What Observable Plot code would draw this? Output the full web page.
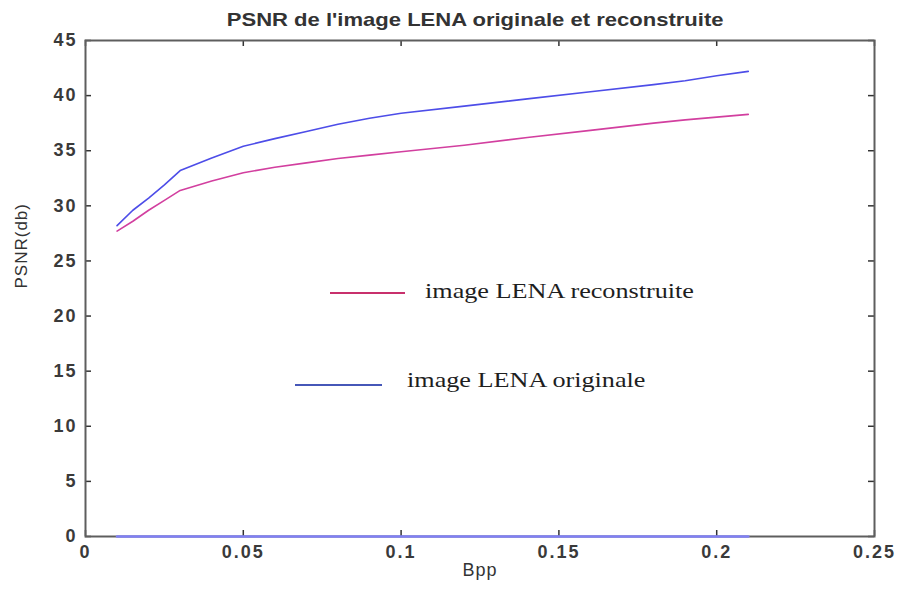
<!DOCTYPE html>
<html>
<head>
<meta charset="utf-8">
<script src="https://cdn.jsdelivr.net/npm/d3@7"></script>
<script src="https://cdn.jsdelivr.net/npm/@observablehq/plot@0.6"></script>
<style>
  body { margin: 0; background: #fff; }
  #wrap { position: relative; width: 899px; height: 589px; background: #fff; font-family: "Liberation Sans", Arial, sans-serif; }
  #title { height: 30px; line-height: 30px; padding-top: 5px; padding-left: 52px; box-sizing: border-box; text-align: center; white-space: nowrap; }
  #title span { display: inline-block; font-size: 19px; font-weight: bold; color: #333; transform: scaleX(1.16); }
  #chart svg text { letter-spacing: 2px; }
  .leg-line { position: absolute; height: 2px; }
  .leg-text { position: absolute; font-family: "Liberation Serif", "Times New Roman", serif; font-size: 22px; line-height: 22px; color: #1e1e1e; white-space: nowrap; transform: scaleX(1.19); transform-origin: left center; }
</style>
</head>
<body>
<div id="wrap">
  <div id="title"><span></span></div>
  <div id="chart"></div>
</div>
<script>
// ---- data ----
const titleText = "PSNR de l'image LENA originale et reconstruite";
const xLabel = "Bpp";
const yLabel = "PSNR(db)";
const seriesNames = ["image LENA reconstruite", "image LENA originale"];
const bpp =         [0.01, 0.015, 0.02, 0.025, 0.03, 0.04, 0.05, 0.06, 0.07, 0.08, 0.09, 0.1, 0.12, 0.14, 0.16, 0.18, 0.19, 0.2, 0.21];
const original =    [28.2, 29.6, 30.7, 31.9, 33.2, 34.35, 35.4, 36.1, 36.75, 37.4, 37.95, 38.4, 39.05, 39.7, 40.35, 41.0, 41.35, 41.8, 42.2];
const reconstruite= [27.7, 28.6, 29.6, 30.5, 31.4, 32.25, 33.0, 33.5, 33.9, 34.3, 34.6, 34.9, 35.5, 36.2, 36.85, 37.5, 37.8, 38.05, 38.3];
const zeroSeries =  [0, 0, 0, 0, 0, 0, 0, 0, 0, 0, 0, 0, 0, 0, 0, 0, 0, 0, 0];
const xTicks = [0, 0.05, 0.1, 0.15, 0.2, 0.25];
const yTicks = [0, 5, 10, 15, 20, 25, 30, 35, 40, 45];

// ---- colours ----
const blue = "#4d4de8";
const pink = "#d23f9f";
const zeroBlue = "#8080f5";
const legPink = "#c8306c";
const legBlue = "#4657b8";

const origData = bpp.map((b, i) => ({bpp: b, psnr: original[i]}));
const recData = bpp.map((b, i) => ({bpp: b, psnr: reconstruite[i]}));
const zeroData = bpp.map((b, i) => ({bpp: b, psnr: zeroSeries[i]}));

document.querySelector("#title span").textContent = titleText;

const frameW = 899 - 85 - 25;
const frameH = 559 - 10 - 53;
const tick = 6;

const plot = Plot.plot({
  width: 899,
  height: 559,
  marginTop: 10,
  marginBottom: 53,
  marginLeft: 85,
  marginRight: 25,
  x: {domain: [0, 0.25]},
  y: {domain: [0, 45]},
  style: {fontFamily: "'Liberation Sans', Arial, sans-serif", fontSize: "18px", fontWeight: "bold", color: "#3a3a3a", background: "white", overflow: "visible"},
  marks: [
    Plot.axisX(xTicks, {tickSize: 0, tickPadding: 9, tickFormat: d => String(d), label: null}),
    Plot.axisY(yTicks, {tickSize: 0, tickPadding: 8, tickFormat: d => String(d), label: null}),
    // inward ticks on all four sides
    Plot.ruleX(xTicks, {x: d => d, insetTop: frameH - tick, stroke: "#333", strokeWidth: 1.5}),
    Plot.ruleX(xTicks, {x: d => d, insetBottom: frameH - tick, stroke: "#333", strokeWidth: 1.5}),
    Plot.ruleY(yTicks, {y: d => d, insetRight: frameW - tick, stroke: "#333", strokeWidth: 1.5}),
    Plot.ruleY(yTicks, {y: d => d, insetLeft: frameW - tick, stroke: "#333", strokeWidth: 1.5}),
    Plot.frame({stroke: "#5e5e5e", strokeWidth: 2}),
    Plot.line(zeroData, {x: "bpp", y: "psnr", stroke: zeroBlue, strokeWidth: 2.5}),
    Plot.line(recData, {x: "bpp", y: "psnr", stroke: pink, strokeWidth: 1.6}),
    Plot.line(origData, {x: "bpp", y: "psnr", stroke: blue, strokeWidth: 1.6}),
    Plot.text([xLabel], {frameAnchor: "bottom", dy: 39, text: d => d, fontSize: 18, fontWeight: "normal", fill: "#333"}),
    Plot.text([yLabel], {frameAnchor: "left", dx: -64, rotate: -90, text: d => d, fontSize: 17, fontWeight: "normal", fill: "#333"})
  ]
});
document.getElementById("chart").appendChild(plot);
// axis titles: less letter spacing than the tick labels
d3.select(plot).selectAll("g[aria-label='text'] text").style("letter-spacing", "1px");

// ---- legend (inside the axes, as in the reference) ----
const wrap = document.getElementById("wrap");
const legendItems = [
  {name: seriesNames[0], color: legPink, lineLeft: 330, lineWidth: 75, lineTop: 292, textLeft: 425, textTop: 280},
  {name: seriesNames[1], color: legBlue, lineLeft: 295, lineWidth: 87, lineTop: 384, textLeft: 407, textTop: 369}
];
for (const it of legendItems) {
  const l = document.createElement("div");
  l.className = "leg-line";
  l.style.left = it.lineLeft + "px";
  l.style.top = it.lineTop + "px";
  l.style.width = it.lineWidth + "px";
  l.style.background = it.color;
  wrap.appendChild(l);
  const t = document.createElement("div");
  t.className = "leg-text";
  t.style.left = it.textLeft + "px";
  t.style.top = it.textTop + "px";
  t.textContent = it.name;
  wrap.appendChild(t);
}
</script>
</body>
</html>
